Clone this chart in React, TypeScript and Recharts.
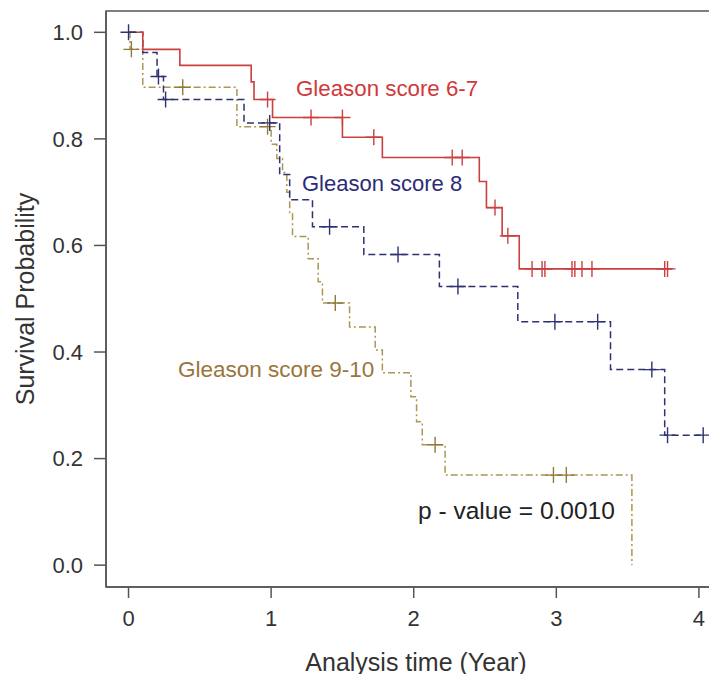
import { ComposedChart, Line, Scatter, XAxis, YAxis, ReferenceArea } from 'recharts';

// Kaplan-Meier steps: t = years, s = survival probability
const gleason67Steps = [
  { t: 0, s: 1.0 },
  { t: 0.1, s: 0.968 },
  { t: 0.36, s: 0.938 },
  { t: 0.86, s: 0.907 },
  { t: 0.88, s: 0.874 },
  { t: 1.01, s: 0.84 },
  { t: 1.5, s: 0.803 },
  { t: 1.78, s: 0.765 },
  { t: 2.46, s: 0.72 },
  { t: 2.51, s: 0.671 },
  { t: 2.62, s: 0.618 },
  { t: 2.74, s: 0.556 },
  { t: 3.81, s: 0.556 },
];

const gleason67Censored = [
  { t: 0.975, s: 0.874 },
  { t: 1.28, s: 0.84 },
  { t: 1.5, s: 0.84 },
  { t: 1.72, s: 0.803 },
  { t: 2.27, s: 0.765 },
  { t: 2.34, s: 0.765 },
  { t: 2.57, s: 0.671 },
  { t: 2.66, s: 0.618 },
  { t: 2.83, s: 0.556 },
  { t: 2.9, s: 0.556 },
  { t: 2.92, s: 0.556 },
  { t: 3.11, s: 0.556 },
  { t: 3.13, s: 0.556 },
  { t: 3.18, s: 0.556 },
  { t: 3.25, s: 0.556 },
  { t: 3.76, s: 0.556 },
  { t: 3.78, s: 0.556 },
];

const gleason8Steps = [
  { t: 0, s: 1.0 },
  { t: 0.1, s: 0.962 },
  { t: 0.2, s: 0.917 },
  { t: 0.245, s: 0.874 },
  { t: 0.81, s: 0.83 },
  { t: 1.06, s: 0.733 },
  { t: 1.13, s: 0.686 },
  { t: 1.29, s: 0.635 },
  { t: 1.65, s: 0.583 },
  { t: 2.18, s: 0.523 },
  { t: 2.73, s: 0.457 },
  { t: 3.38, s: 0.367 },
  { t: 3.76, s: 0.244 },
  { t: 4.03, s: 0.244 },
];

const gleason8Censored = [
  { t: 0, s: 1.0 },
  { t: 0.21, s: 0.917 },
  { t: 0.26, s: 0.874 },
  { t: 0.99, s: 0.83 },
  { t: 1.41, s: 0.635 },
  { t: 1.89, s: 0.583 },
  { t: 2.31, s: 0.523 },
  { t: 2.99, s: 0.457 },
  { t: 3.29, s: 0.457 },
  { t: 3.67, s: 0.367 },
  { t: 3.78, s: 0.244 },
  { t: 4.03, s: 0.244 },
];

const gleason910Steps = [
  { t: 0, s: 1.0 },
  { t: 0.01, s: 0.968 },
  { t: 0.1, s: 0.897 },
  { t: 0.76, s: 0.823 },
  { t: 1.0, s: 0.79 },
  { t: 1.04, s: 0.763 },
  { t: 1.08, s: 0.737 },
  { t: 1.11, s: 0.7 },
  { t: 1.13, s: 0.66 },
  { t: 1.15, s: 0.617 },
  { t: 1.26, s: 0.575 },
  { t: 1.33, s: 0.532 },
  { t: 1.36, s: 0.492 },
  { t: 1.55, s: 0.447 },
  { t: 1.73, s: 0.404 },
  { t: 1.78, s: 0.361 },
  { t: 1.98, s: 0.316 },
  { t: 2.02, s: 0.269 },
  { t: 2.06, s: 0.226 },
  { t: 2.22, s: 0.169 },
  { t: 3.53, s: 0.0 },
];

const gleason910Censored = [
  { t: 0.02, s: 0.968 },
  { t: 0.38, s: 0.897 },
  { t: 0.975, s: 0.823 },
  { t: 1.45, s: 0.492 },
  { t: 2.15, s: 0.226 },
  { t: 2.98, s: 0.169 },
  { t: 3.07, s: 0.169 },
];

const xTicks = [0, 1, 2, 3, 4];
const yTicks = [0, 0.2, 0.4, 0.6, 0.8, 1.0];
const xDomain: [number, number] = [-0.158, 4.197];
const yDomain: [number, number] = [-0.041, 1.04];

const RED = '#c9403f';
const NAVY = '#2e3172';
const GOLD = '#ab9755';
const AXIS = '#555';
const FONT = '"Liberation Sans", Arial, sans-serif';

const crossShape = (color: string) => (props: any) => {
  const { cx, cy } = props;
  if (cx == null || cy == null) return <g />;
  return (
    <path
      d={`M${cx - 8},${cy}H${cx + 8}M${cx},${cy - 8}V${cy + 8}`}
      stroke={color}
      strokeWidth={1.4}
      fill="none"
    />
  );
};

const tickStyle = { fontSize: 22, fill: '#333', fontFamily: FONT };

const App = () => {
  return (
    <div
      style={{
        position: 'relative',
        width: 717,
        height: 682,
        overflow: 'hidden',
        margin: -8,
        background: '#fff',
      }}
    >
      <ComposedChart width={740} height={682} margin={{ top: 11, right: 13, bottom: 0, left: 0 }}>
        <XAxis
          type="number"
          dataKey="t"
          domain={xDomain}
          allowDataOverflow
          ticks={xTicks}
          height={95}
          tick={tickStyle}
          tickSize={11}
          tickMargin={12}
          stroke={AXIS}
          axisLine={{ stroke: AXIS, strokeWidth: 1.5 }}
          tickLine={{ stroke: AXIS, strokeWidth: 1.5 }}
        />
        <YAxis
          type="number"
          dataKey="s"
          domain={yDomain}
          allowDataOverflow
          ticks={yTicks}
          width={106}
          tick={tickStyle}
          tickFormatter={(v: number) => v.toFixed(1)}
          tickSize={12}
          tickMargin={11}
          stroke={AXIS}
          axisLine={{ stroke: AXIS, strokeWidth: 1.5 }}
          tickLine={{ stroke: AXIS, strokeWidth: 1.5 }}
        />
        <ReferenceArea
          x1={xDomain[0]}
          x2={xDomain[1]}
          y1={yDomain[0]}
          y2={yDomain[1]}
          fill="none"
          stroke={AXIS}
          strokeWidth={1.5}
          ifOverflow="visible"
        />
        <Line
          data={gleason910Steps}
          dataKey="s"
          type="stepAfter"
          stroke={GOLD}
          strokeWidth={1.5}
          strokeDasharray="7 3 2 3"
          dot={false}
          isAnimationActive={false}
        />
        <Line
          data={gleason8Steps}
          dataKey="s"
          type="stepAfter"
          stroke={NAVY}
          strokeWidth={1.5}
          strokeDasharray="7 4"
          dot={false}
          isAnimationActive={false}
        />
        <Line
          data={gleason67Steps}
          dataKey="s"
          type="stepAfter"
          stroke={RED}
          strokeWidth={1.6}
          dot={false}
          isAnimationActive={false}
        />
        <Scatter data={gleason910Censored} dataKey="s" shape={crossShape('#8f7a3a')} isAnimationActive={false} />
        <Scatter data={gleason8Censored} dataKey="s" shape={crossShape(NAVY)} isAnimationActive={false} />
        <Scatter data={gleason67Censored} dataKey="s" shape={crossShape(RED)} isAnimationActive={false} />
      </ComposedChart>

      <svg
        width={717}
        height={682}
        style={{ position: 'absolute', left: 0, top: 0, pointerEvents: 'none' }}
        fontFamily={FONT}
      >
        <text x={296} y={96} fontSize={22.3} fill="#d0393b">
          Gleason score 6-7
        </text>
        <text x={302} y={191} fontSize={22} fill="#2b2c78">
          Gleason score 8
        </text>
        <text x={178} y={377} fontSize={22.5} fill="#9a753c">
          Gleason score 9-10
        </text>
        <text x={418} y={519} fontSize={24.5} fill="#222">
          p - value = 0.0010
        </text>
        <text x={416} y={671} fontSize={25} fill="#333" textAnchor="middle">
          Analysis time (Year)
        </text>
        <text
          x={0}
          y={0}
          fontSize={25}
          fill="#333"
          textAnchor="middle"
          transform="translate(34,299) rotate(-90)"
        >
          Survival Probability
        </text>
      </svg>
    </div>
  );
};

export default App;
